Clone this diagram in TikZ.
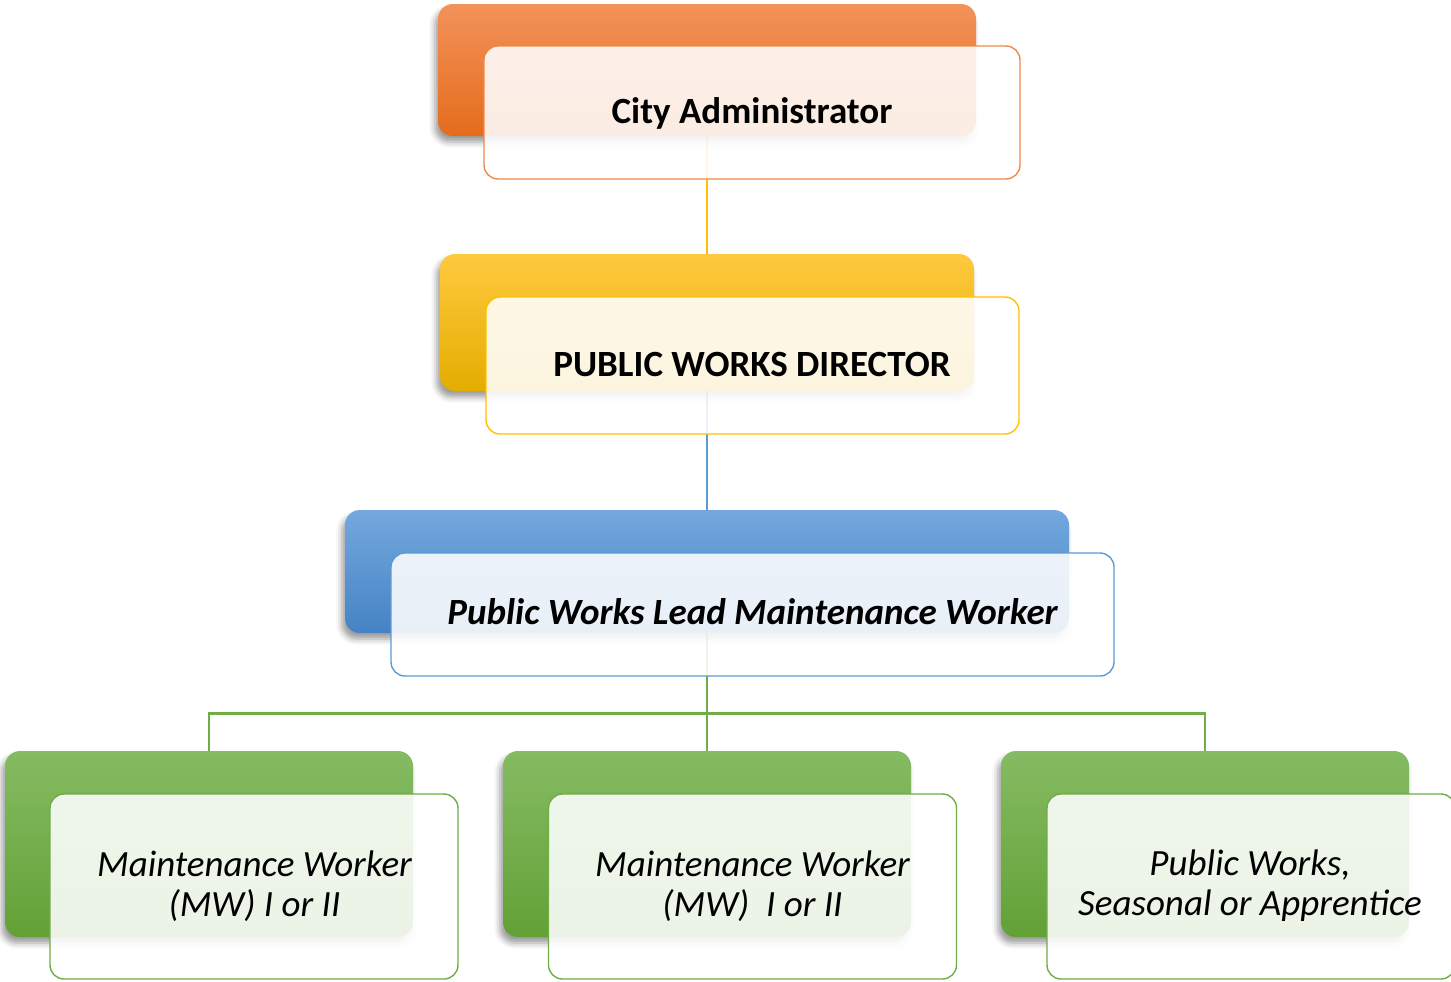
\documentclass[tikz,border=0pt]{standalone}
\usepackage{fontspec}
\setmainfont{Carlito}
\usetikzlibrary{shadows.blur,backgrounds}

% level colours: gradient stops of the back panels, and line colours
\definecolor{oTop}{HTML}{F3925A}
\definecolor{oMid}{HTML}{F5822F}
\definecolor{oBot}{HTML}{E46C1C}
\definecolor{oLine}{HTML}{F0884A}
\definecolor{yTop}{HTML}{FFC93F}
\definecolor{yMid}{HTML}{FFC20A}
\definecolor{yBot}{HTML}{E4AD00}
\definecolor{yLine}{HTML}{FFC000}
\definecolor{bTop}{HTML}{74A8DE}
\definecolor{bMid}{HTML}{5B9BD5}
\definecolor{bBot}{HTML}{4583C4}
\definecolor{bLine}{HTML}{5B9BD5}
\definecolor{gTop}{HTML}{85BB62}
\definecolor{gMid}{HTML}{72AE48}
\definecolor{gBot}{HTML}{62A136}
\definecolor{gLine}{HTML}{70AD47}

\newcommand\boxfont{\fontsize{18.5pt}{19.75pt}\selectfont}

\begin{document}
\begin{tikzpicture}[
  x=0.5pt, y=-0.5pt,
  back/.style={rounded corners=7.5pt, inner sep=0pt,
    blur shadow={shadow xshift=-1.5pt, shadow yshift=-3pt,
                 shadow blur radius=3pt, shadow opacity=40}},
  orangeback/.style={back, top color=oTop, middle color=oMid, bottom color=oBot},
  yellowback/.style={back, top color=yTop, middle color=yMid, bottom color=yBot},
  blueback/.style={back, top color=bTop, middle color=bMid, bottom color=bBot},
  greenback/.style={back, top color=gTop, middle color=gMid, bottom color=gBot,
    minimum width=204pt, minimum height=93pt},
  front/.style={rounded corners=7pt, fill=white, fill opacity=0.88,
    line width=0.7pt, inner sep=0pt},
  greenfront/.style={front, draw=gLine, minimum width=204pt, minimum height=92.5pt},
  conn/.style={line width=1.1pt},
  lbl/.style={anchor=base, inner sep=0pt, text=black},
  lbltwo/.style={lbl, align=center, font=\boxfont\itshape},
]
\useasboundingbox (0,0) rectangle (1451,981);

% back panels
\node[orangeback, minimum width=269pt, minimum height=66pt]   (ca-back)   at (707,70)    {};
\node[yellowback, minimum width=267pt, minimum height=68.5pt] (pwd-back)  at (707,322.5) {};
\node[blueback,   minimum width=362pt, minimum height=61.5pt] (lead-back) at (707,571.5) {};
\node[greenback] (mw1-back) at (209,844)  {};
\node[greenback] (mw2-back) at (707,844)  {};
\node[greenback] (pw-back)  at (1205,844) {};

% translucent front cards
\node[front, draw=oLine, minimum width=268pt,   minimum height=66.5pt] (ca-front)   at (752,112.5)   {};
\node[front, draw=yLine, minimum width=266.5pt, minimum height=68.5pt] (pwd-front)  at (752.5,365.5) {};
\node[front, draw=bLine, minimum width=361.5pt, minimum height=61.5pt] (lead-front) at (752.5,614.5) {};
\node[greenfront] (mw1-front) at (254,886.5)  {};
\node[greenfront] (mw2-front) at (752.5,886.5) {};
\node[greenfront] (pw-front)  at (1251,886.5) {};

% reporting lines, behind the cards
\begin{scope}[on background layer]
  \draw[conn, yLine] (ca-back.south) -- (pwd-back.north);
  \draw[conn, bLine] (pwd-back.south) -- (lead-back.north);
  \draw[conn, gLine] (lead-back.south) -- (mw2-back.north);
  \draw[conn, gLine] (lead-back.south) -- ++(0,80) -| (mw1-back.north);
  \draw[conn, gLine] (lead-back.south) -- ++(0,80) -| (pw-back.north);
\end{scope}

% titles (two-line titles sit on the baseline of their last line)
\node[lbl, font=\boxfont\bfseries] (ca-text)  at (752,123)   {City Administrator};
\node[lbl, font=\boxfont\bfseries] (pwd-text) at (752,376)   {PUBLIC WORKS DIRECTOR};
\node[lbl, font=\boxfont\bfseries\itshape] (lead-text) at (752.5,624) {Public Works Lead Maintenance Worker};
\node[lbltwo] (mw1-text) at (254.5,916) {Maintenance Worker\\(MW) I or II};
\node[lbltwo] (mw2-text) at (752.5,916) {Maintenance Worker\\(MW)~ I or II};
\node[lbltwo] (pw-text)  at (1250,915)  {Public Works,\\Seasonal or Apprentice};
\end{tikzpicture}
\end{document}
